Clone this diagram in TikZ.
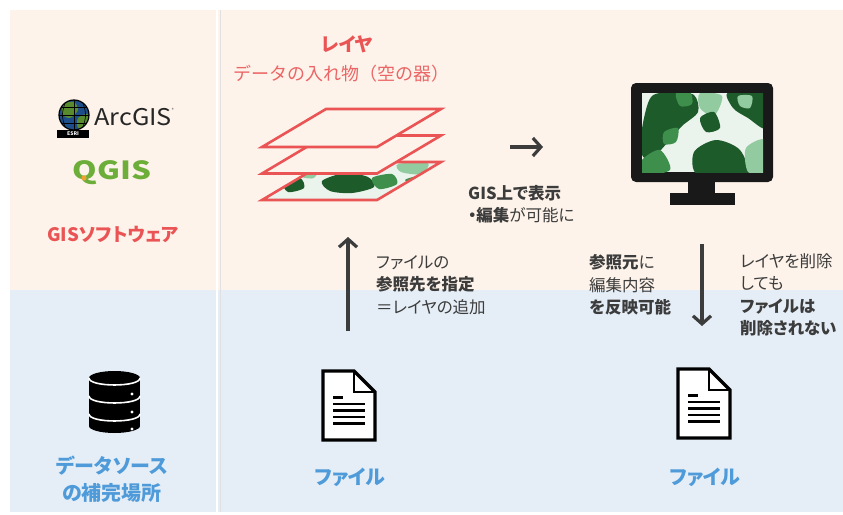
\documentclass[tikz,border=0pt]{standalone}
\usepackage{fontspec}
\setmainfont{Noto Sans CJK JP}[RawFeature=+palt]
\newfontfamily\fwfont{Noto Sans CJK JP}
\usetikzlibrary{arrows.meta}

\definecolor{peach}{HTML}{FDF3EA}
\definecolor{paleblue}{HTML}{E5EEF7}
\definecolor{layred}{HTML}{EA5455}
\definecolor{srcblue}{HTML}{4F9BD9}
\definecolor{inkgray}{HTML}{3C3C3C}
\definecolor{qgreen}{HTML}{6DAE3A}
\definecolor{qorange}{HTML}{F0A030}
\definecolor{mapbg}{HTML}{EAF3EC}
\definecolor{mapdark}{HTML}{1E5B2B}
\definecolor{mapmid}{HTML}{3F8F4C}
\definecolor{maplight}{HTML}{93CBA0}
\definecolor{globeblue}{HTML}{1D4E89}

\begin{document}
\begin{tikzpicture}[x=1pt,y=-1pt,
  note/.style={text=inkgray,font=\fontsize{16.5}{22.5}\selectfont,align=left,anchor=west,inner sep=0pt},
  srclabel/.style={text=srcblue,font=\bfseries\fontsize{20}{27}\selectfont,align=center,inner sep=0pt},
  flow/.style={draw=inkgray,line width=3.2pt,-{Straight Barb[length=8pt,width=18pt]}},
  layerbox/.style={draw=layred,line width=2.6pt,line join=miter},
  docline/.style={line width=2.2pt,black},
]
\useasboundingbox (0,0) rectangle (843,514);

% two bands and the divider
\fill[peach] (10,10) rectangle (843,290);
\fill[paleblue] (10,290) rectangle (843,512);
\draw[white,line width=2pt] (217,10) -- (217,512);
\draw[black!12,line width=0.8pt] (220,10) -- (220,512);

% ---- left column: software
\fill[globeblue] (74,115) circle (15);
\begin{scope}
  \clip (74,115) circle (15);
  \fill[qgreen!80!black] plot[smooth cycle] coordinates {(64,104) (74,102) (78,110) (70,118) (62,114)};
  \fill[qgreen!80!black] plot[smooth cycle] coordinates {(78,118) (88,114) (86,126) (78,128)};
  \foreach \gx in {-8,0,8}
    \draw[black,line width=0.6pt] (74+\gx,100) .. controls (74+1.6*\gx,115) .. (74+\gx,130);
  \foreach \gy in {-8,0,8}
    \draw[black,line width=0.6pt] (59,115+\gy) -- (89,115+\gy);
\end{scope}
\draw[black,line width=1.2pt] (74,115) circle (15);
\fill[black] (57,130) rectangle (89,138);
\node[text=white,font=\bfseries\fontsize{5}{5}\selectfont,inner sep=0] (esri) at (73,134) {ESRI};
\node[anchor=west,inner sep=0,text=black!85,font=\fontsize{23}{23}\selectfont] (arcgis) at (94,117) {\scalebox{1.1}[1]{ArcGIS}\raisebox{1.1ex}{\fontsize{4}{4}\selectfont ®}};

\node[inner sep=0,text=qgreen,font=\bfseries\fontsize{25}{25}\selectfont] (qgis) at (112,173) {\scalebox{1.25}[1]{QGIS}};
\fill[qorange] (84,178) circle (2.6);

\node[inner sep=0,text=layred,font=\bfseries\fontsize{18.5}{18.5}\selectfont] (gissoft) at (113,234) {GISソフトウェア};

% ---- left column: data source (database)
\fill[black] (89,378) rectangle (140,426);
\fill[black] (114.5,426) ellipse (25.5 and 7);
\fill[black] (114.5,378) ellipse (25.5 and 7);
\foreach \cy in {378,396,414}
  \draw[white,line width=1.6pt] (89,\cy) .. controls (89,\cy+9.3) and (140,\cy+9.3) .. (140,\cy);
\foreach \cy in {394,412,429}
  \fill[white] (132,\cy) circle (1.6);
\node[srclabel] (dsrc) at (112,479) {データソース\\の補完場所};

% ---- layer stack (bottom one carries the map)
\fill[mapbg] (326,162) -- (441,162) -- (377,200) -- (262,200) -- cycle;
\begin{scope}
  \clip (326,162) -- (441,162) -- (377,200) -- (262,200) -- cycle;
  \fill[mapdark] plot[smooth cycle] coordinates {(322,181) (345,173) (368,177) (374,187) (352,193) (330,191)};
  \fill[mapmid] plot[smooth cycle] coordinates {(372,178) (392,174) (397,184) (379,189)};
  \fill[maplight] plot[smooth cycle] coordinates {(398,164) (428,163) (421,174) (401,172)};
  \fill[mapdark] plot[smooth cycle] coordinates {(283,182) (300,178) (304,188) (288,192)};
  \fill[maplight] plot[smooth cycle] coordinates {(300,170) (318,168) (314,178) (302,177)};
  \fill[mapmid] plot[smooth cycle] coordinates {(405,180) (420,176) (416,186)};
\end{scope}
\draw[layerbox] (326,162) -- (441,162) -- (377,200) -- (262,200) -- cycle;
\foreach \ly in {26.5,0}
  \filldraw[layerbox,fill=peach,shift={(0,\ly)}] (326,109) -- (441,109) -- (377,147) -- (262,147) -- cycle;

\node[inner sep=0,text=layred,font=\bfseries\fontsize{19}{19}\selectfont] (layhead) at (347,44) {レイヤ};
\node[inner sep=0,text=layred!90,font=\fwfont\fontsize{18}{18}\selectfont] (laysub) at (341,74) {データの入れ物（空の器）};

% ---- monitor
\fill[black!90, rounded corners=5pt] (631,83) rectangle (773,182);
\fill[black!90] (688,181) rectangle (715,194);
\fill[black!90] (670,193) rectangle (735,205);
\fill[mapbg] (642,93) rectangle (763,172);
\begin{scope}
  \clip (642,93) rectangle (763,172);
  \fill[mapdark] plot[smooth cycle] coordinates {(652,96) (672,92) (694,95) (698,112) (682,126) (668,142) (650,160) (640,150) (644,118)};
  \fill[mapmid] plot[smooth cycle] coordinates {(676,93) (690,92) (692,104) (680,106)};
  \fill[maplight] plot[smooth cycle] coordinates {(700,93) (722,96) (714,116) (700,108)};
  \fill[mapdark] plot[smooth cycle] coordinates {(728,92) (766,92) (766,128) (748,118) (733,108)};
  \fill[maplight] plot[smooth cycle] coordinates {(738,96) (752,96) (750,108) (740,106)};
  \fill[mapdark] plot[smooth cycle] coordinates {(694,152) (716,140) (740,150) (746,175) (698,175)};
  \fill[maplight] plot[smooth cycle] coordinates {(746,148) (766,140) (766,175) (748,172)};
  \fill[mapmid] plot[smooth cycle] coordinates {(642,160) (660,150) (670,170) (642,175)};
  \fill[mapdark] plot[smooth cycle] coordinates {(700,118) (714,112) (720,128) (706,132)};
  \fill[mapmid] plot[smooth cycle] coordinates {(664,132) (678,128) (676,142) (664,144)};
\end{scope}

% ---- files
\foreach \ox/\oy in {0/0,355/-2}{
  \begin{scope}[shift={(\ox,\oy)}]
    \filldraw[fill=white,draw=black,line width=3.4pt,line join=miter] (323,371) -- (354,371) -- (375,392) -- (375,440) -- (323,440) -- cycle;
    \draw[black,line width=2.4pt] (354,371) -- (354,392) -- (375,392);
    \draw[docline] (333,397.5) -- (343,397.5);
    \foreach \ly in {404,410.5,417,423.5}
      \draw[docline] (333,\ly) -- (365,\ly);
  \end{scope}
}
\node[srclabel] (file1) at (350,477) {ファイル};
\node[srclabel] (file2) at (705,477) {ファイル};

% ---- arrows
\coordinate (showS) at (510,147);
\coordinate (showE) at (543,147);
\coordinate (addS) at (348,331);
\coordinate (addE) at (348,237);
\coordinate (backS) at (702,244);
\coordinate (backE) at (702,326);
\draw[flow] (showS) -- (showE);
\draw[flow] (addS) -- (addE);
\draw[flow] (backS) -- (backE);

% ---- notes
\node[note] (shownote) at (468,204) {\textbf{GIS上で表示}\\\textbf{・編集}が可能に};
\node[note] (addnote) at (376,285) {ファイルの\\\textbf{参照先を指定}\\＝レイヤの追加};
\node[note] (backnote) at (589,285) {\textbf{参照元}に\\編集内容\\\textbf{を反映可能}};
\node[note] (delnote) at (740,295) {レイヤを削除\\しても\\\textbf{ファイルは}\\\textbf{削除されない}};
\end{tikzpicture}
\end{document}
